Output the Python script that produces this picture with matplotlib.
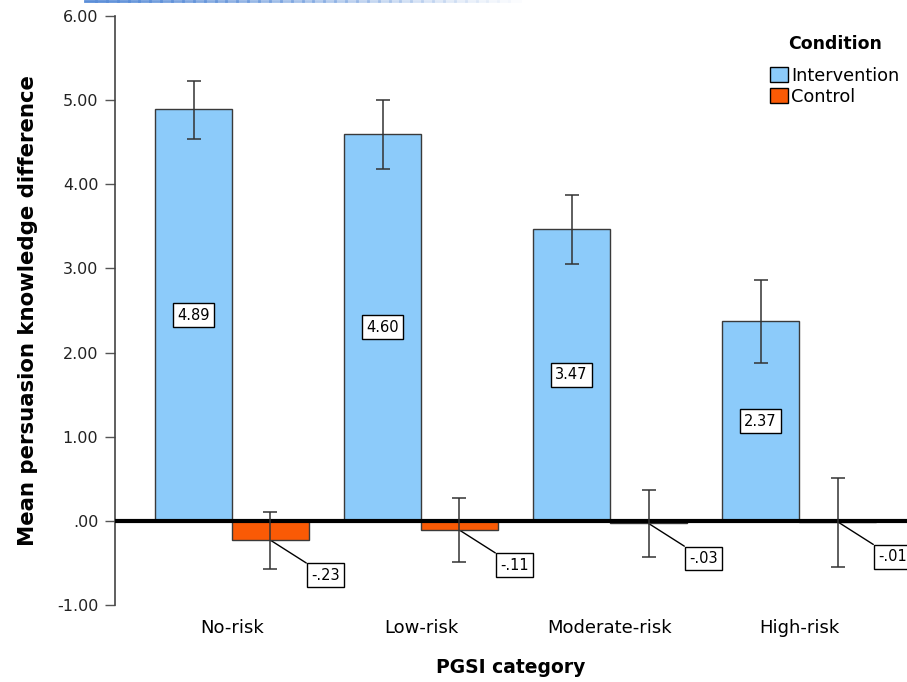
import matplotlib.pyplot as plt
import numpy as np
from matplotlib.lines import Line2D

# values
categories = ['No-risk', 'Low-risk', 'Moderate-risk', 'High-risk']
intervention = [4.89, 4.60, 3.47, 2.37]
control = [-0.23, -0.11, -0.03, -0.01]
int_low = [4.54, 4.18, 3.05, 1.88]
int_high = [5.23, 5.00, 3.87, 2.86]
ctl_low = [-0.57, -0.49, -0.43, -0.55]
ctl_high = [0.11, 0.27, 0.37, 0.51]
int_labels = ['4.89', '4.60', '3.47', '2.37']
ctl_labels = ['-.23', '-.11', '-.03', '-.01']
yticks = [-1, 0, 1, 2, 3, 4, 5, 6]
ytick_labels = ['-1.00', '.00', '1.00', '2.00', '3.00', '4.00', '5.00', '6.00']

blue = '#8ccbfa'
orange = '#fa5a05'
edge = '#3a3a3a'

fig = plt.figure(figsize=(9.07, 6.82), dpi=100)
ax = fig.add_axes([115 / 907, 77 / 682, 792 / 907, 589 / 682])

x = np.arange(len(categories))
w = 0.407

b1 = ax.bar(x - w / 2, intervention, w, color=blue, edgecolor=edge, linewidth=1, zorder=2)
b2 = ax.bar(x + w / 2, control, w, color=orange, edgecolor=edge, linewidth=1, zorder=2)

# error bars
ie = [np.array(intervention) - np.array(int_low), np.array(int_high) - np.array(intervention)]
ce = [np.array(control) - np.array(ctl_low), np.array(ctl_high) - np.array(control)]
ax.errorbar(x - w / 2, intervention, yerr=ie, fmt='none', ecolor='#333333', elinewidth=1.1, capsize=5.2, capthick=1.1, zorder=4)
ax.errorbar(x + w / 2, control, yerr=ce, fmt='none', ecolor='#333333', elinewidth=1.1, capsize=5.2, capthick=1.1, zorder=4)

# thick zero line
ax.axhline(0, color='black', linewidth=3, zorder=3)

box = dict(boxstyle='square,pad=0.3', facecolor='white', edgecolor='black', linewidth=1)
for i in range(len(categories)):
    ax.text(x[i] - w / 2, intervention[i] / 2, int_labels[i], ha='center', va='center',
            fontsize=10.5, bbox=box, zorder=5)
    ax.annotate(ctl_labels[i], xy=(x[i] + w / 2, control[i]), xytext=(55, -35),
                textcoords='offset pixels', ha='center', va='center', fontsize=10.5, bbox=box,
                arrowprops=dict(arrowstyle='-', color='black', linewidth=1, shrinkA=0, shrinkB=0),
                zorder=1)

ax.set_xlim(-0.619, 3.571)
ax.set_ylim(-1, 6)
ax.set_yticks(yticks)
ax.set_yticklabels(ytick_labels, fontsize=11.5, color='#222222')
ax.set_xticks(x)
ax.set_xticklabels(categories, fontsize=13)
ax.tick_params(axis='x', length=0, pad=10)
ax.tick_params(axis='y', length=7, width=1, color='#555555', pad=5)

for s in ['top', 'right', 'bottom']:
    ax.spines[s].set_visible(False)
ax.spines['left'].set_color('#444444')
ax.spines['left'].set_linewidth(1.2)

ax.set_ylabel('Mean persuasion knowledge difference', fontsize=15.3, fontweight='bold', labelpad=14)
ax.set_xlabel('PGSI category', fontsize=13.5, fontweight='bold', labelpad=15)

leg = ax.legend([b1, b2], ['Intervention', 'Control'], title='Condition',
                loc='upper left', bbox_to_anchor=(770 / 907, 1 - 35 / 682),
                bbox_transform=fig.transFigure, frameon=False, fontsize=12.8,
                handlelength=1.0, handleheight=0.95, handletextpad=0.2,
                labelspacing=0.15, borderpad=0, borderaxespad=0)
leg.get_title().set_fontweight('bold')
leg.get_title().set_fontsize(12.5)
leg._legend_box.sep = 10
for h in leg.legend_handles:
    h.set_edgecolor('black')
    h.set_linewidth(1)

# page border artifact at the top
n = 40
xs = np.linspace(85 / 907, 520 / 907, n + 1)
for k in range(n):
    fig.add_artist(Line2D([xs[k], xs[k + 1]], [0.998, 0.998], transform=fig.transFigure,
                          color='#5b8ed8', linewidth=2, alpha=max(0.0, 1 - k / n)))

fig.savefig('out.png', dpi=100)
